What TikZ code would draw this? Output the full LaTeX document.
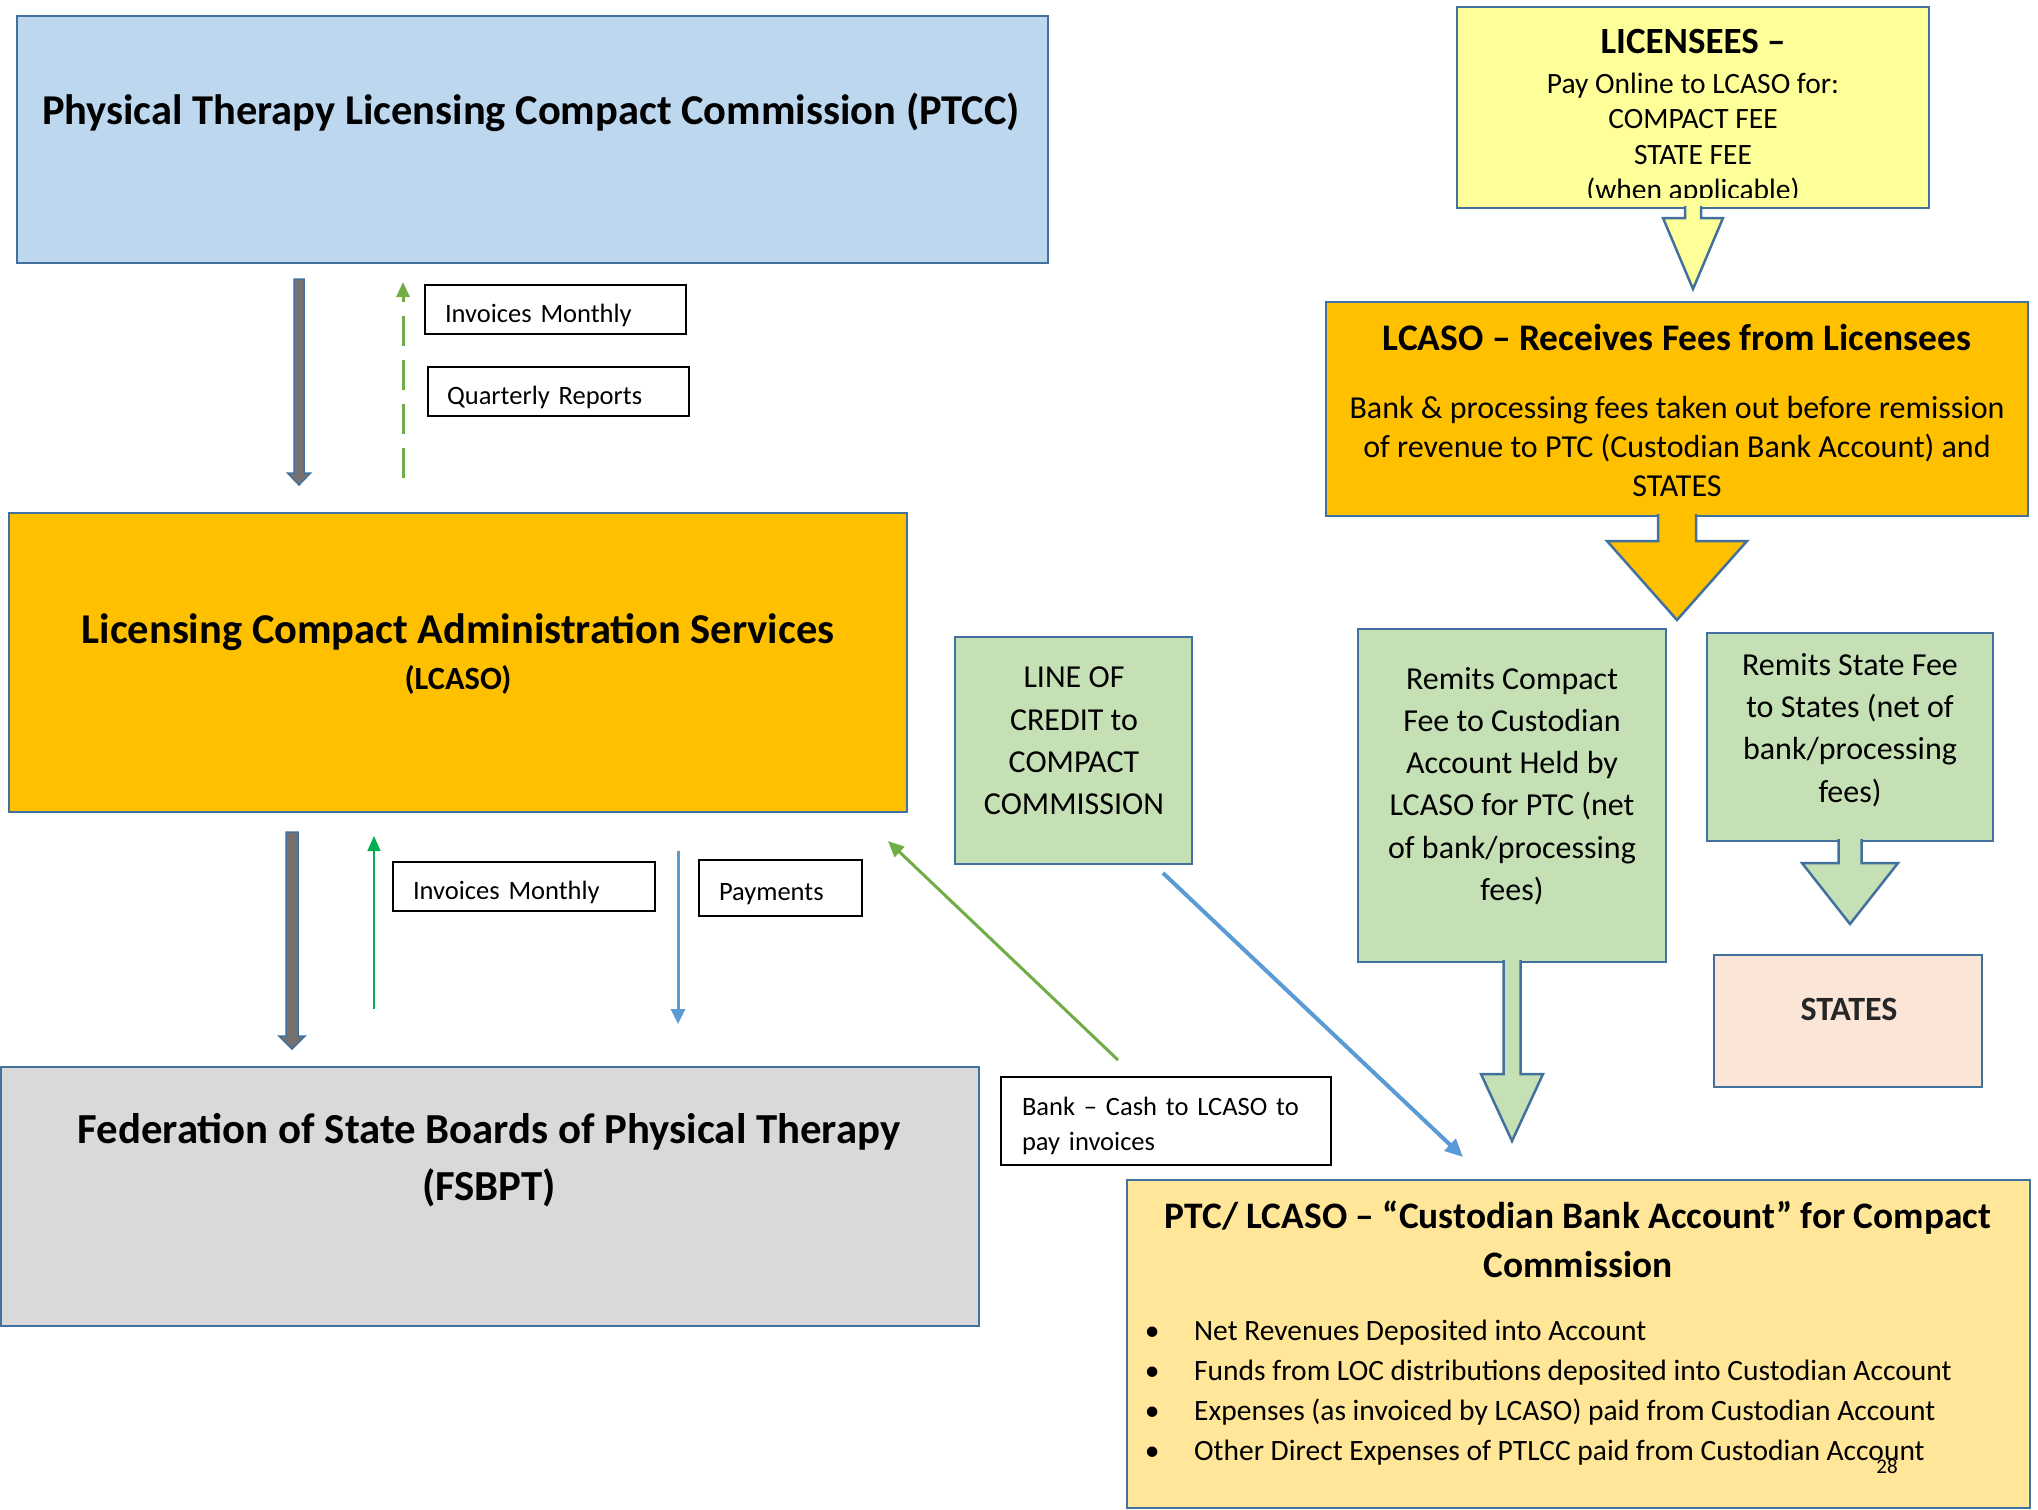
\documentclass[tikz,border=0pt]{standalone}
\usepackage{fontspec}
\setmainfont{Carlito}
\usetikzlibrary{arrows.meta,calc}
\definecolor{bordblue}{HTML}{41719C}
\definecolor{ptccblue}{HTML}{BDD7EE}
\definecolor{gold}{HTML}{FFC000}
\definecolor{lgray}{HTML}{D9D9D9}
\definecolor{lyellow}{HTML}{FFFF99}
\definecolor{lgreen}{HTML}{C5E0B4}
\definecolor{peach}{HTML}{FBE5D6}
\definecolor{custyellow}{HTML}{FFE699}
\definecolor{dgray}{HTML}{767171}
\definecolor{agreen}{HTML}{70AD47}
\definecolor{bgreen}{HTML}{00B050}
\definecolor{ablue}{HTML}{5B9BD5}
\definecolor{darktext}{HTML}{262626}
\newcommand\blockdown[6]{%
  \draw[bordblue, line width=2.5pt, line join=miter, fill=#6]
    ($(#1)+(-#2,-2)$) -- ($(#1)+(-#2,#3)$) -- ($(#1)+(-#4,#3)$) -- ($(#1)+(0,#5)$)
    -- ($(#1)+(#4,#3)$) -- ($(#1)+(#2,#3)$) -- ($(#1)+(#2,-2)$);}
\newcommand\graydown[5]{% start, end, shaft half, head half, head length
  \draw[bordblue, line width=1.5pt, fill=dgray, line join=miter]
    ($(#1)+(-#3,0)$) -- ($(#2)+(-#3,-#5)$) -- ($(#2)+(-#4,-#5)$) -- (#2)
    -- ($(#2)+(#4,-#5)$) -- ($(#2)+(#3,-#5)$) -- ($(#1)+(#3,0)$) -- cycle;}
\begin{document}
\begin{tikzpicture}[x=1pt,y=-1pt,
  box/.style={draw=bordblue, line width=2.5pt, inner sep=0pt, outer sep=0pt},
  txt/.style={align=center, inner sep=0pt},
  lbl/.style={draw=black, line width=2pt, fill=white, inner xsep=20pt, inner ysep=0pt,
    align=left, font=\fontsize{26.5}{35}\selectfont},
  onel/.style={text height=27.5pt, text depth=2pt}]
\useasboundingbox[fill=white] (0,0) rectangle (2038,1510);

% ---------- main boxes ----------
\node[box, fill=ptccblue, minimum width=1031, minimum height=247] (ptcc) at (532.5,139.5) {};
\node[txt, font=\fontsize{42.5}{50}\selectfont\bfseries] (ptcct) at (531,112)
  {Physical Therapy Licensing Compact Commission (PTCC)};

\node[box, fill=gold, minimum width=898, minimum height=299] (lcaso) at (458,662.5) {};
\node[txt, font=\fontsize{42.5}{50}\selectfont\bfseries] (lcasot) at (458,632)
  {Licensing Compact Administration Services};
\node[txt, font=\fontsize{32.4}{38}\selectfont\bfseries] (lcasos) at (458,680) {(LCASO)};

\node[box, fill=lgray, minimum width=978, minimum height=259] (fsbpt) at (490,1196.5) {};
\node[txt, font=\fontsize{42.8}{57.5}\selectfont\bfseries] (fsbptt) at (489,1160)
  {Federation of State Boards of Physical Therapy\\(FSBPT)};

% ---------- right column ----------
\node[box, fill=lyellow, minimum width=472, minimum height=201] (lic) at (1693,107.5) {};
\begin{scope}
\clip (1458,8) rectangle (1928,197);
\node[txt, font=\fontsize{29.5}{35.5}\selectfont] (lict) at (1693,117)
  {{\fontsize{37}{35.5}\selectfont\bfseries LICENSEES –}\\[4pt]
   Pay Online to LCASO for:\\COMPACT FEE\\STATE FEE\\(when applicable)};
\end{scope}

\node[box, fill=gold, minimum width=702, minimum height=214] (lrec) at (1677,409) {};
\node[txt, font=\fontsize{37.5}{44}\selectfont\bfseries] (lrect) at (1677,337)
  {LCASO – Receives Fees from Licensees};
\node[txt, font=\fontsize{32}{39}\selectfont] (lrecb) at (1677,446)
  {Bank \& processing fees taken out before remission\\
   of revenue to PTC (Custodian Bank Account) and\\STATES};

\node[box, fill=lgreen, minimum width=308, minimum height=333] (g1) at (1512,795.5) {};
\node[txt, font=\fontsize{32}{42.2}\selectfont] (g1t) at (1512,786)
  {Remits Compact\\Fee to Custodian\\Account Held by\\LCASO for PTC (net\\of bank/processing\\fees)};

\node[box, fill=lgreen, minimum width=286, minimum height=208] (g2) at (1850,737) {};
\node[txt, font=\fontsize{32}{42.2}\selectfont] (g2t) at (1850,730)
  {Remits State Fee\\to States (net of\\bank/processing\\fees)};

\node[box, fill=peach, minimum width=268, minimum height=132] (states) at (1848,1021) {};
\node[txt, font=\fontsize{34}{40}\selectfont\bfseries, text=darktext] (statest) at (1849,1009) {STATES};

\node[box, fill=lgreen, minimum width=237, minimum height=227] (loc) at (1073.5,750.5) {};
\node[txt, font=\fontsize{32}{42.2}\selectfont] (loct) at (1074,741)
  {LINE OF\\CREDIT to\\COMPACT\\COMMISSION};

\node[box, fill=custyellow, minimum width=903, minimum height=328] (cust) at (1578.5,1344) {};
\node[txt, font=\fontsize{37.4}{49}\selectfont\bfseries] (custt) at (1578,1239)
  {PTC/ LCASO – “Custodian Bank Account” for Compact\\Commission};
\node[txt, align=left, anchor=west, font=\fontsize{29.5}{40}\selectfont] (custb) at (1144,1393)
  {\makebox[50pt][l]{\makebox[16pt]{•}}Net Revenues Deposited into Account\\
   \makebox[50pt][l]{\makebox[16pt]{•}}Funds from LOC distributions deposited into Custodian Account\\
   \makebox[50pt][l]{\makebox[16pt]{•}}Expenses (as invoiced by LCASO) paid from Custodian Account\\
   \makebox[50pt][l]{\makebox[16pt]{•}}Other Direct Expenses of PTLCC paid from Custodian Account};
\node[txt, font=\fontsize{21}{24}\selectfont] (pgno) at (1887,1466) {28};

% ---------- block arrows ----------
\blockdown{lic.south}{8}{10}{30}{81}{lyellow}
\blockdown{lrec.south}{19}{25}{70}{104}{gold}
\blockdown{g1.south}{8.5}{112}{31}{179}{lgreen}
\blockdown{g2.south}{11.5}{22}{48}{83}{lgreen}

% ---------- labels ----------
\node[lbl, onel, text width=221, minimum height=49] (inv1) at (555.5,309.5) {Invoices Monthly};
\node[lbl, onel, text width=223, minimum height=49, inner xsep=19pt] (qrep) at (558.5,391.5) {Quarterly Reports};
\node[lbl, onel, text width=222, minimum height=49] (inv2) at (524,886.5) {Invoices Monthly};
\node[lbl, text height=26pt, text depth=2pt, text width=123, minimum height=56] (pay) at (780.5,888) {Payments};
\node[lbl, text width=288, minimum height=88, inner xsep=21pt, text height=28pt] (bank) at (1166,1121)
  {Bank – Cash to LCASO to\\pay invoices};

% ---------- connectors ----------
\coordinate (gAs) at ($(ptcc.south west)+(282,16)$);
\coordinate (gAe) at ($(lcaso.north west)+(290,-28)$);
\graydown{gAs}{gAe}{5}{11.5}{12}
\coordinate (gBs) at ($(lcaso.south west)+(283,20)$);
\coordinate (gBe) at ($(fsbpt.north west)+(291,-18)$);
\graydown{gBs}{gBe}{6}{13}{13}

\draw[agreen, line width=3pt, dash pattern=on 30pt off 14pt, -{Triangle[length=15pt,width=13pt]}]
  ($(lcaso.north west)+(394,-35)$) -- ($(ptcc.south west)+(386,19)$);
\draw[bgreen, line width=1.5pt, -{Triangle[length=15pt,width=13pt]}]
  ($(fsbpt.north west)+(373,-58)$) -- ($(lcaso.south west)+(365,24)$);
\draw[ablue, line width=3pt, -{Triangle[length=15pt,width=14pt]}]
  ($(lcaso.south west)+(669,39)$) -- ($(fsbpt.north west)+(677,-43)$);
\draw[agreen, line width=3pt, -{Triangle[length=16pt,width=14pt]}]
  ($(bank.north west)+(118,-16)$) -- ($(lcaso.south east)+(-19,29)$);
\draw[ablue, line width=4pt, -{Triangle[length=18pt,width=16pt]}]
  ($(loc.south east)+(-29,9)$) -- ($(cust.north west)+(336,-23)$);
\end{tikzpicture}
\end{document}
